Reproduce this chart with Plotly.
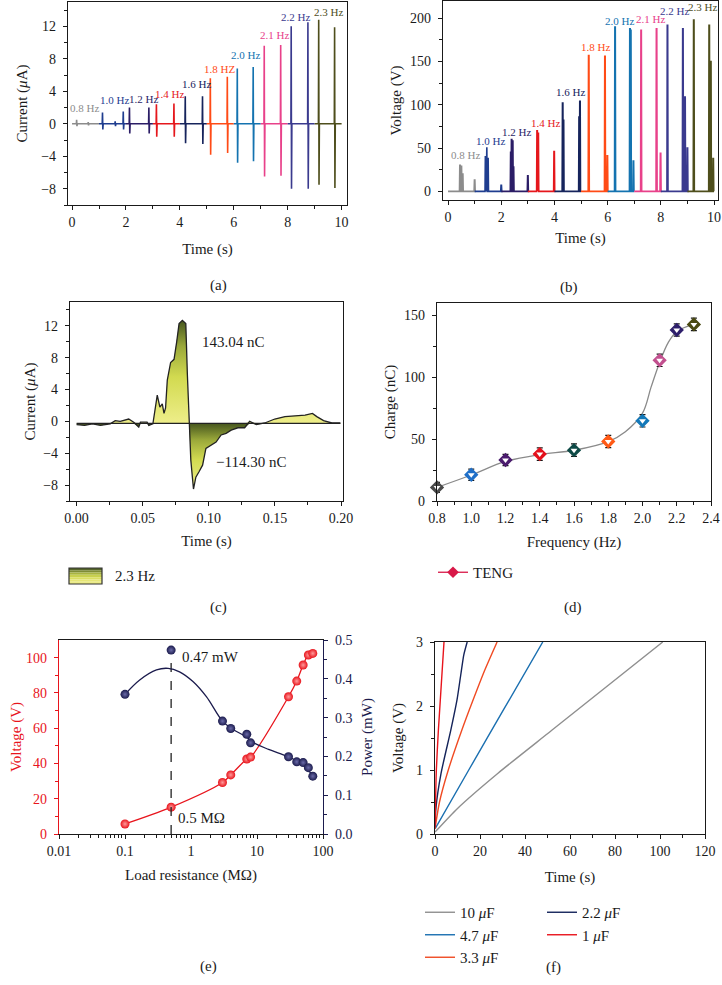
import numpy as np
import plotly.graph_objects as go

W, H = 722, 985
FONT = "Liberation Serif, DejaVu Serif, serif"
INK = "#1a1a1a"

# ---------------- (a) short-circuit current vs time ----------------
a_labels = ["0.8 Hz", "1.0 Hz", "1.2 Hz", "1.4 Hz", "1.6 Hz", "1.8 HZ", "2.0 Hz", "2.1 Hz", "2.2 Hz", "2.3 Hz"]
seg_colors = ["#8c8c8c", "#1f3d8f", "#2b1d66", "#e5171c", "#16245c", "#ff4b16", "#1473b0", "#e8418a", "#3a3a8e", "#4e4e1c"]
seg_start = [0.0, 1.0, 2.0, 3.0, 4.0, 5.0, 6.0, 7.0, 8.0, 9.0]
seg_end = [1.0, 2.0, 3.0, 4.0, 5.0, 6.0, 7.0, 8.0, 9.0, 10.0]
a_spike_t = [[0.17, 0.60], [1.13, 1.60, 1.90], [2.13, 2.85], [3.13, 3.78], [4.20, 4.84],
             [5.13, 5.76], [6.13, 6.72], [7.13, 7.74], [8.13, 8.75], [9.15, 9.74]]
a_spike_peak = [[0.5, 0.2], [1.4, 0.3, 1.5], [2.0, 2.0], [2.4, 2.5], [3.4, 3.4],
                [5.6, 5.8], [6.8, 7.0], [9.6, 9.7], [12.0, 12.5], [12.8, 11.9]]
a_spike_trough = [[-0.3, -0.2], [-0.7, -0.3, -0.7], [-1.2, -1.2], [-1.6, -1.6], [-2.4, -2.5],
                  [-3.8, -3.6], [-4.8, -4.6], [-6.5, -6.4], [-8.0, -8.0], [-7.5, -7.9]]
a_label_t = [0.48, 1.59, 2.64, 3.63, 4.60, 5.46, 6.45, 7.50, 8.30, 9.50]
a_label_y = [1.9, 2.9, 3.0, 3.7, 4.9, 6.8, 8.5, 10.9, 13.2, 13.8]

# ---------------- (b) open-circuit voltage vs time ----------------
b_labels = ["0.8 Hz", "1.0 Hz", "1.2 Hz", "1.4 Hz", "1.6 Hz", "1.8 Hz", "2.0 Hz", "2.1 Hz", "2.2 Hz", "2.3 Hz"]
b_pulse_t = [[0.45, 0.50, 0.55, 1.00], [1.41, 1.45, 1.50, 2.00], [2.36, 2.39, 2.43, 2.46, 3.00],
             [3.35, 3.39, 3.99], [4.31, 4.34, 4.93, 4.96], [5.29, 5.90, 5.99],
             [6.28, 6.84, 6.87, 6.97], [7.26, 7.84, 7.99], [8.25, 8.83, 8.91, 9.00],
             [9.24, 9.82, 9.88, 9.97]]
b_pulse_v = [[30, 29, 20, 13], [40, 51, 38, 7], [45, 60, 59, 28, 18], [70, 68, 46],
             [102, 82, 86, 104], [157, 156, 41], [190, 188, 186, 35], [186, 188, 44],
             [192, 188, 109, 50], [198, 192, 150, 38]]
b_label_t = [0.66, 1.60, 2.58, 3.68, 4.59, 5.55, 6.43, 7.61, 8.51, 9.58]
b_label_y = [42, 58, 69, 79, 115, 167, 197, 199, 208, 213]

# ---------------- (c) single current pulse at 2.3 Hz ----------------
c_time = [0.0000, 0.0060, 0.0120, 0.0180, 0.0254, 0.0292, 0.0330, 0.0394, 0.0432, 0.0470,
          0.0483, 0.0533, 0.0546, 0.0577, 0.0610, 0.0630, 0.0648, 0.0661, 0.0673, 0.0686,
          0.0711, 0.0737, 0.0757, 0.0775, 0.0800, 0.0826, 0.0838, 0.0851, 0.0864, 0.0884,
          0.0902, 0.0927, 0.0953, 0.0978, 0.1016, 0.1055, 0.1093, 0.1131, 0.1169, 0.1220,
          0.1271, 0.1309, 0.1360, 0.1423, 0.1499, 0.1576, 0.1652, 0.1728, 0.1784, 0.1817,
          0.1868, 0.1931, 0.1995]
c_current = [-0.4, -0.5, -0.3, -0.5, -0.3, 0.1, 0.0, 0.3, -0.1, -0.7,
             -0.1, -0.1, -0.5, -0.3, 3.3, 1.8, 2.2, 1.0, 1.7, 5.2,
             7.4, 7.8, 10.0, 12.3, 12.7, 12.3, 5.8, 0.0, -4.9, -8.5,
             -7.0, -6.3, -5.5, -3.4, -3.0, -2.6, -1.7, -1.5, -1.1, -0.8,
             -0.8, 0.0, -0.4, -0.2, 0.3, 0.6, 0.7, 0.8, 1.0, 0.6,
             0.1, -0.2, -0.2]
c_fill_base = -0.25
c_pos_label = "143.04 nC"
c_neg_label = "\u2212114.30 nC"

# ---------------- (d) transferred charge vs frequency ----------------
d_freq = [0.8, 1.0, 1.2, 1.4, 1.6, 1.8, 2.0, 2.1, 2.2, 2.3]
d_charge = [11.0, 21.2, 33.1, 37.9, 41.1, 48.1, 64.8, 113.7, 138.2, 142.7]
d_err = [4.0, 4.5, 4.5, 5.0, 5.0, 5.0, 5.0, 5.0, 5.0, 5.0]
d_colors = ["#4a4a4a", "#1f6fc8", "#4b1c6e", "#e4101c", "#0e4a46", "#ff5a16", "#1378b8", "#c2508f", "#2e1f6b", "#4a4a12"]
d_fit_freq = [0.8, 1.0, 1.2, 1.4, 1.6, 1.8, 1.9, 2.0, 2.05, 2.1, 2.15, 2.2, 2.3]
d_fit_charge = [11, 21, 32, 37.5, 41, 48, 56, 71, 92, 112, 128, 137, 143]

# ---------------- (e) load resistance dependence ----------------
e_res = [0.1, 0.5, 3, 4, 7, 8, 30, 40, 50, 60, 70]
e_volt = [5.7, 15.2, 29.2, 33.5, 42.5, 43.6, 77.8, 86.7, 95.8, 101.5, 102.4]
e_power = [0.36, 0.474, 0.291, 0.272, 0.257, 0.235, 0.199, 0.186, 0.184, 0.171, 0.149]
e_fit_res = [0.1, 0.167, 0.30, 0.45, 0.67, 1.07, 1.71, 3, 4.3, 6.9, 8.7, 15, 30, 50, 70]
e_fit_power = [0.36, 0.397, 0.423, 0.427, 0.418, 0.393, 0.354, 0.291, 0.270, 0.250, 0.236, 0.218, 0.199, 0.178, 0.150]

# ---------------- (f) capacitor charging ----------------
f_names = ["10 <i>\u03bc</i>F", "4.7 <i>\u03bc</i>F", "3.3 <i>\u03bc</i>F", "2.2 <i>\u03bc</i>F", "1 <i>\u03bc</i>F"]
f_colors = ["#8f8f8f", "#1a6fb0", "#f04a22", "#14235a", "#e8141c"]
f_time = [[0, 10.0, 28.0, 51.9, 101.2],
          [0, 15.0, 30.6, 47.9],
          [0, 2.0, 5.9, 11.9, 17.0, 22.0, 27.6],
          [0, 0.4, 2.7, 7.0, 9.8, 11.5, 12.8, 14.3],
          [0, 0.6, 1.5, 4.0]]
f_volt = [[0.03, 0.40, 0.95, 1.62, 3.0],
          [0.08, 1.0, 1.95, 3.0],
          [0.08, 0.5, 1.0, 1.62, 2.1, 2.55, 3.0],
          [0.10, 0.40, 0.95, 1.62, 2.1, 2.5, 2.8, 3.0],
          [0.10, 1.0, 1.62, 3.0]]
f_legend = ["legend3", "legend3", "legend3", "legend4", "legend4"]

RED = "#e8141c"
NAVY = "#1b1b4d"


def xd(l, r):
    return [l / W, r / W]


def yd(t, b):
    return [1 - b / H, 1 - t / H]


def axis(domain, rng, anchor, **kw):
    base = dict(domain=domain, range=rng, anchor=anchor, showline=True, linecolor=INK, linewidth=1.2,
                mirror=True, ticks="outside", ticklen=4, tickwidth=1.1, tickcolor=INK,
                showgrid=False, zeroline=False, automargin=False,
                tickfont=dict(size=14, family=FONT, color=INK),
                minor=dict(ticks="outside", ticklen=3, tickwidth=1, tickcolor=INK))
    base.update(kw)
    return base


fig = go.Figure()

# (a)
for i in range(len(seg_start)):
    xs, ys = [seg_start[i]], [0]
    for t, p, tr in zip(a_spike_t[i], a_spike_peak[i], a_spike_trough[i]):
        xs += [t - 0.01, t, t + 0.012, t + 0.025]
        ys += [0, p, tr, 0]
    xs.append(seg_end[i]); ys.append(0)
    fig.add_trace(go.Scatter(x=xs, y=ys, mode="lines", line=dict(color=seg_colors[i], width=1.6),
                             showlegend=False, xaxis="x", yaxis="y"))

# (b)
for i in range(len(seg_start)):
    xs, ys = [seg_start[i]], [0]
    for t, v in zip(b_pulse_t[i], b_pulse_v[i]):
        xs += [t - 0.02, t - 0.008, t + 0.008, t + 0.02]
        ys += [0, v, v, 0]
    xs.append(seg_end[i]); ys.append(0)
    fig.add_trace(go.Scatter(x=xs, y=ys, mode="lines", line=dict(color=seg_colors[i], width=1.6),
                             showlegend=False, xaxis="x2", yaxis="y2"))

# (c)
c_arr = np.array(c_current)
c_base = [c_fill_base] * len(c_time)
grad = [[0, "#eeee8a"], [0.45, "#d2da50"], [0.75, "#9aa83a"], [1, "#46561e"]]
fig.add_trace(go.Scatter(x=c_time, y=c_base, mode="lines", line=dict(width=0),
                         showlegend=False, xaxis="x3", yaxis="y3", hoverinfo="skip"))
fig.add_trace(go.Scatter(x=c_time, y=np.maximum(c_arr, c_fill_base), mode="lines", line=dict(width=0),
                         fill="tonexty",
                         fillgradient=dict(type="vertical", colorscale=grad, start=c_fill_base, stop=max(c_current)),
                         showlegend=False, xaxis="x3", yaxis="y3", hoverinfo="skip"))
fig.add_trace(go.Scatter(x=c_time, y=c_base, mode="lines", line=dict(width=0),
                         showlegend=False, xaxis="x3", yaxis="y3", hoverinfo="skip"))
fig.add_trace(go.Scatter(x=c_time, y=np.minimum(c_arr, c_fill_base), mode="lines", line=dict(width=0),
                         fill="tonexty",
                         fillgradient=dict(type="vertical", colorscale=grad, start=min(c_current), stop=c_fill_base),
                         showlegend=False, xaxis="x3", yaxis="y3", hoverinfo="skip"))
fig.add_trace(go.Scatter(x=c_time, y=c_base, mode="lines", line=dict(color="#222", width=1.1),
                         showlegend=False, xaxis="x3", yaxis="y3", hoverinfo="skip"))
fig.add_trace(go.Scatter(x=c_time, y=c_current, mode="lines", line=dict(color="#222", width=1.3),
                         showlegend=False, xaxis="x3", yaxis="y3"))

# (d)
fig.add_trace(go.Scatter(x=d_fit_freq, y=d_fit_charge, mode="lines", line=dict(color="#8a8a8a", width=1.3, shape="spline"),
                         showlegend=False, xaxis="x4", yaxis="y4"))
fig.add_trace(go.Scatter(x=d_freq, y=d_charge, mode="markers",
                         error_y=dict(type="data", array=d_err, color=INK, thickness=1.2, width=3),
                         marker=dict(symbol="diamond", size=9.5, color=d_colors, line=dict(color=d_colors, width=1.4)),
                         cliponaxis=False, showlegend=False, xaxis="x4", yaxis="y4"))
fig.add_trace(go.Scatter(x=d_freq, y=d_charge, mode="markers",
                         marker=dict(symbol="triangle-down", size=6, color="white", line=dict(width=0)),
                         cliponaxis=False, showlegend=False, xaxis="x4", yaxis="y4"))
fig.add_trace(go.Scatter(x=[None], y=[None], mode="lines+markers", name="TENG",
                         line=dict(color="#d81848", width=1.3),
                         marker=dict(symbol="diamond", size=9, color="#d81848"),
                         legend="legend2", xaxis="x4", yaxis="y4"))

# (e)
fig.add_trace(go.Scatter(x=[e_res[int(np.argmax(e_power))]] * 2, y=[0, max(e_power)], mode="lines",
                         line=dict(color="#222", width=1.3, dash="dash"),
                         showlegend=False, xaxis="x5", yaxis="y6"))
fig.add_trace(go.Scatter(x=e_res, y=e_volt, mode="lines+markers",
                         line=dict(color=RED, width=1.3, shape="spline"),
                         marker=dict(symbol="circle", size=9, color=RED,
                                     gradient=dict(type="radial", color="#ff9a9a"), line=dict(width=0)),
                         cliponaxis=False, showlegend=False, xaxis="x5", yaxis="y5"))
fig.add_trace(go.Scatter(x=e_fit_res, y=e_fit_power, mode="lines",
                         line=dict(color=NAVY, width=1.3, shape="spline"),
                         showlegend=False, xaxis="x5", yaxis="y6"))
fig.add_trace(go.Scatter(x=e_res, y=e_power, mode="markers",
                         marker=dict(symbol="circle", size=9, color=NAVY,
                                     gradient=dict(type="radial", color="#6a6aa8"), line=dict(width=0)),
                         cliponaxis=False, showlegend=False, xaxis="x5", yaxis="y6"))

# (f)
for i in range(len(f_names)):
    fig.add_trace(go.Scatter(x=f_time[i], y=f_volt[i], mode="lines", name=f_names[i],
                             line=dict(color=f_colors[i], width=1.4, shape="spline", smoothing=0.6),
                             legend=f_legend[i], xaxis="x6", yaxis="y7"))

# ---------------- layout ----------------
tf = dict(size=15, family=FONT, color=INK)
mt = lambda **k: dict(ticks="outside", ticklen=3, tickcolor=INK, **k)
YS = 4  # extra gap between y tick labels and axis
lay = dict(
    width=W, height=H, margin=dict(l=0, r=0, t=0, b=0, autoexpand=False),
    paper_bgcolor="white", plot_bgcolor="white", hovermode=False,
    font=dict(family=FONT, color=INK, size=14),
    xaxis=axis(xd(68, 347), [-0.15, 10.2], "y", dtick=2, tick0=0, minor=mt(dtick=1),
               title=dict(text="Time (s)", font=tf, standoff=14)),
    yaxis=axis(yd(2, 205), [-10, 15], "x", tickvals=[-8, -4, 0, 4, 8, 12], ticklabelstandoff=YS,
               minor=mt(tickvals=[-10, -6, -2, 2, 6, 10, 14]),
               title=dict(text="Current (<i>\u03bc</i>A)", font=tf, standoff=9)),
    xaxis2=axis(xd(443, 718), [-0.19, 10.15], "y2", dtick=2, tick0=0, minor=mt(dtick=1),
                title=dict(text="Time (s)", font=tf, standoff=8)),
    yaxis2=axis(yd(1, 200), [-10, 220], "x2", tickvals=[0, 50, 100, 150, 200], ticklabelstandoff=YS,
                minor=mt(tickvals=[25, 75, 125, 175]),
                title=dict(text="Voltage (V)", font=tf, standoff=4)),
    xaxis3=axis(xd(70, 343), [-0.005, 0.2015], "y3", tickvals=[0, 0.05, 0.10, 0.15, 0.20], tickformat=".2f",
                minor=mt(tickvals=[0.025, 0.075, 0.125, 0.175]),
                title=dict(text="Time (s)", font=tf, standoff=10)),
    yaxis3=axis(yd(302, 501), [-10, 15], "x3", tickvals=[-8, -4, 0, 4, 8, 12], ticklabelstandoff=YS,
                minor=mt(tickvals=[-10, -6, -2, 2, 6, 10, 14]),
                title=dict(text="Current (<i>\u03bc</i>A)", font=tf, standoff=3)),
    xaxis4=axis(xd(437, 711), [0.8, 2.4], "y4", dtick=0.2, tick0=0.8, tickformat=".1f",
                minor=mt(dtick=0.1),
                title=dict(text="Frequency (Hz)", font=tf, standoff=11)),
    yaxis4=axis(yd(303, 501), [0, 160], "x4", tickvals=[0, 50, 100, 150], ticklabelstandoff=YS,
                minor=mt(tickvals=[25, 75, 125]),
                title=dict(text="Charge (nC)", font=tf, standoff=4)),
    xaxis5=axis(xd(59, 323), [-2, 2], "y5", type="log", tickvals=[0.01, 0.1, 1, 10, 100],
                ticktext=["0.01", "0.1", "1", "10", "100"],
                minor=mt(tickvals=[0.02, 0.03, 0.04, 0.05, 0.06, 0.07, 0.08, 0.09,
                                   0.2, 0.3, 0.4, 0.5, 0.6, 0.7, 0.8, 0.9,
                                   2, 3, 4, 5, 6, 7, 8, 9, 20, 30, 40, 50, 60, 70, 80, 90]),
                title=dict(text="Load resistance (M\u03a9)", font=tf, standoff=11)),
    yaxis5=axis(yd(640, 834), [0, 110], "x5", tickvals=[0, 20, 40, 60, 80, 100], mirror=False,
                ticklabelstandoff=YS,
                linecolor=RED, tickcolor=RED, tickfont=dict(size=14, family=FONT, color=RED),
                minor=dict(ticks="outside", ticklen=3, tickvals=[10, 30, 50, 70, 90], tickcolor=RED),
                title=dict(text="Voltage (V)", font=dict(size=15, family=FONT, color=RED), standoff=0)),
    yaxis6=axis(yd(640, 834), [0, 0.5], "x5", overlaying="y5", side="right", mirror=False,
                tickvals=[0, 0.1, 0.2, 0.3, 0.4, 0.5], tickformat=".1f", ticklabelstandoff=YS,
                linecolor=NAVY, tickcolor=NAVY, tickfont=dict(size=14, family=FONT, color=NAVY),
                minor=dict(ticks="outside", ticklen=3, tickvals=[0.05, 0.15, 0.25, 0.35, 0.45], tickcolor=NAVY),
                title=dict(text="Power (mW)", font=dict(size=15, family=FONT, color=NAVY), standoff=10)),
    xaxis6=axis(xd(435, 705), [0, 120], "y7", dtick=20, tick0=0, minor=mt(dtick=10),
                title=dict(text="Time (s)", font=tf, standoff=13)),
    yaxis7=axis(yd(642, 834), [0, 3], "x6", dtick=1, tick0=0, minor=mt(dtick=0.5), ticklabelstandoff=YS,
                title=dict(text="Voltage (V)", font=tf, standoff=8)),
    legend2=dict(x=433 / W, y=1 - 556 / H, xanchor="left", yanchor="top", bgcolor="rgba(0,0,0,0)",
                 font=dict(size=15, family=FONT, color=INK)),
    legend3=dict(x=420 / W, y=1 - 896 / H, xanchor="left", yanchor="top", bgcolor="rgba(0,0,0,0)",
                 font=dict(size=15, family=FONT, color=INK), tracegroupgap=0),
    legend4=dict(x=542 / W, y=1 - 896 / H, xanchor="left", yanchor="top", bgcolor="rgba(0,0,0,0)",
                 font=dict(size=15, family=FONT, color=INK), tracegroupgap=0),
)
fig.update_layout(**lay)

ann = []
for i in range(len(a_labels)):
    ann.append(dict(x=a_label_t[i], y=a_label_y[i], xref="x", yref="y", text=a_labels[i], showarrow=False,
                    font=dict(size=11, family=FONT, color=seg_colors[i])))
    ann.append(dict(x=b_label_t[i], y=b_label_y[i], xref="x2", yref="y2", text=b_labels[i], showarrow=False,
                    font=dict(size=11, family=FONT, color=seg_colors[i])))
ann.append(dict(x=0.0932, y=10.0, xref="x3", yref="y3", text=c_pos_label, showarrow=False, xanchor="left",
                font=dict(size=15, family=FONT, color=INK)))
ann.append(dict(x=0.1040, y=-5.1, xref="x3", yref="y3", text=c_neg_label, showarrow=False, xanchor="left",
                font=dict(size=15, family=FONT, color=INK)))
ann.append(dict(x=np.log10(0.68), y=0.455, xref="x5", yref="y6", text="0.47 mW", showarrow=False, xanchor="left",
                font=dict(size=15, family=FONT, color=INK)))
ann.append(dict(x=np.log10(0.6), y=9.3, xref="x5", yref="y5", text="0.5 M\u03a9", showarrow=False, xanchor="left",
                font=dict(size=15, family=FONT, color=INK)))
# (c) legend text
ann.append(dict(x=113 / W, y=1 - 576 / H, xref="paper", yref="paper", text="2.3 Hz", showarrow=False,
                xanchor="left", font=dict(size=15, family=FONT, color=INK)))
# panel letters
for txt, px, py in [("(a)", 208, 275), ("(b)", 580, 277), ("(c)", 208, 607), ("(d)", 584, 607),
                    ("(e)", 198, 977), ("(f)", 563, 978)]:
    ann.append(dict(x=px / W, y=1 - py / H, xref="paper", yref="paper", text=txt, showarrow=False,
                    font=dict(size=15, family=FONT, color=INK)))
fig.update_layout(annotations=ann)

# (c) legend swatch (gradient rectangle)
sw_cols = ["#56662a", "#7e8c36", "#a8b440", "#c8d04e", "#dade62", "#e6e676", "#ecec88"]
x0, x1, top, bot = 69, 102, 568, 584
n = len(sw_cols)
shapes = []
for k, col in enumerate(sw_cols):
    ya = top + (bot - top) * k / n
    yb = top + (bot - top) * (k + 1) / n
    shapes.append(dict(type="rect", xref="paper", yref="paper", x0=x0 / W, x1=x1 / W,
                       y0=1 - yb / H, y1=1 - ya / H, fillcolor=col, line=dict(width=0), layer="above"))
shapes.append(dict(type="rect", xref="paper", yref="paper", x0=x0 / W, x1=x1 / W,
                   y0=1 - bot / H, y1=1 - top / H, line=dict(color="#333", width=1.2), layer="above"))
fig.update_layout(shapes=shapes)

fig.write_html("out.html", config={"displayModeBar": False},
               post_script="document.body.style.margin='0px';")
